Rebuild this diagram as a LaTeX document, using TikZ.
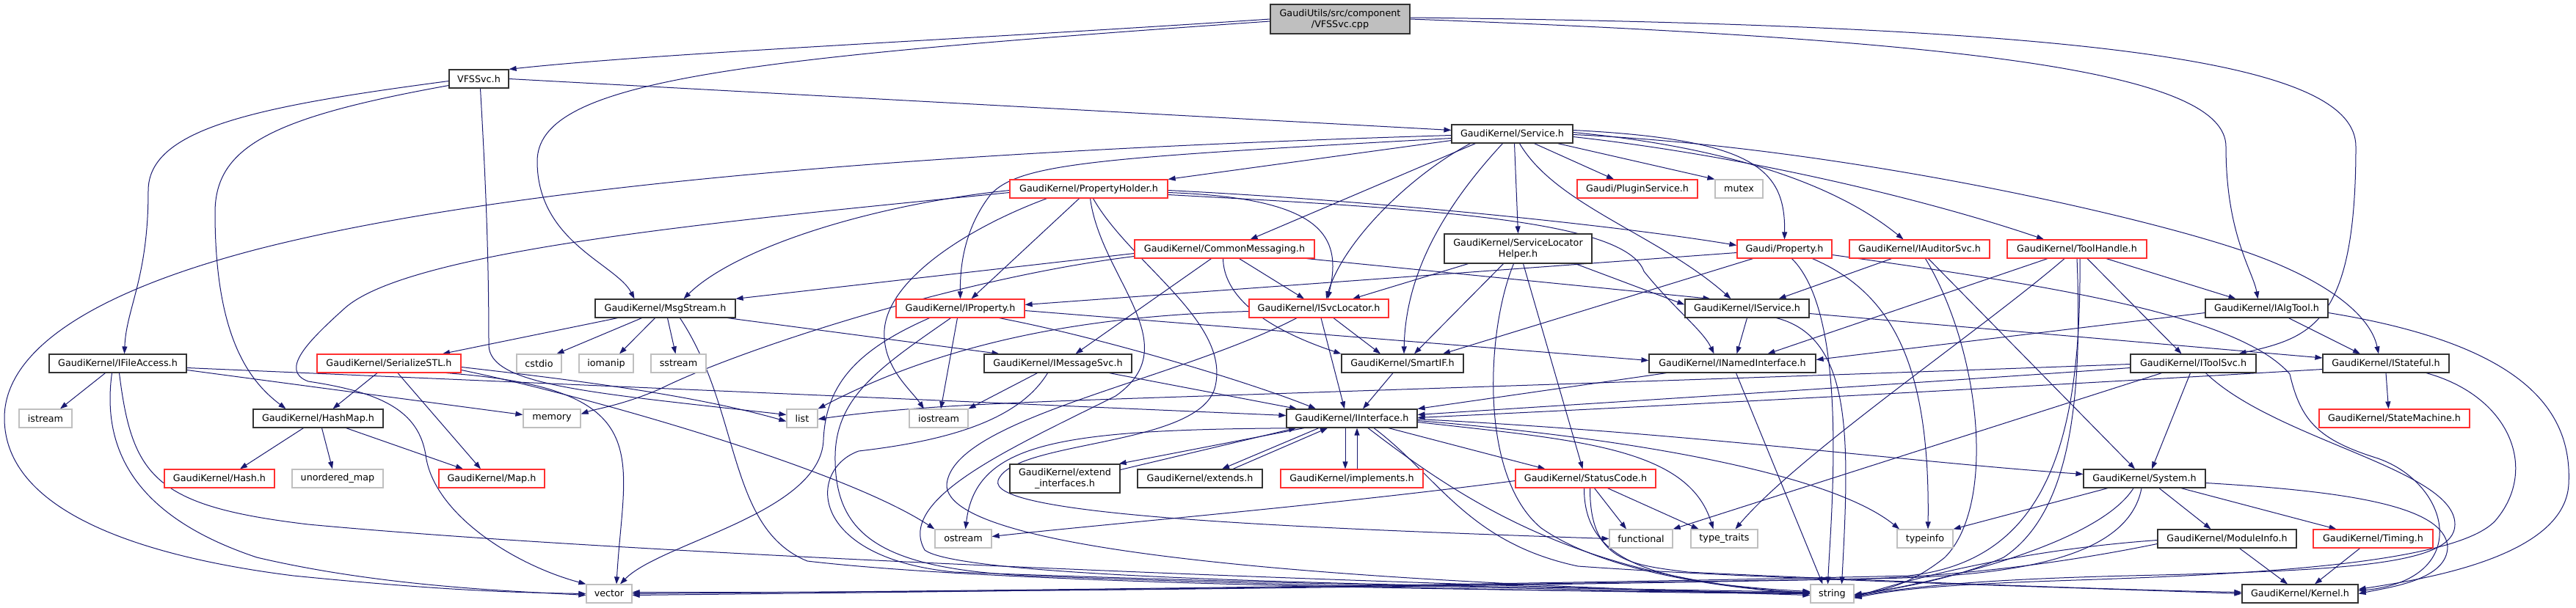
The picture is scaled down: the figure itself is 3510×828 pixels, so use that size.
\documentclass[tikz,border=0pt]{standalone}
\usepackage{fontspec}
\setmainfont{DejaVu Sans}
\usetikzlibrary{arrows.meta}
\definecolor{edgec}{HTML}{191970}
\definecolor{redc}{HTML}{FF3030}
\definecolor{grayc}{HTML}{BFBFBF}
\definecolor{blk}{HTML}{333333}
\pgfdeclarelayer{edges}
\pgfsetlayers{edges,main}
\begin{document}
\begin{tikzpicture}[x=1pt,y=-1pt,
  nb/.style={draw=blk, fill=white, line width=1.2pt, minimum height=25pt, inner sep=0pt, align=center, font=\fontsize{12.75}{15}\selectfont},
  nr/.style={nb, draw=redc},
  ng/.style={nb, draw=grayc},
  edg/.style={draw=edgec, line width=1pt, -{Triangle[length=10pt,width=7pt]}}]
\useasboundingbox (0,0) rectangle (3510,828);
% ---- nodes ----
\node[nb, fill=grayc, minimum width=190pt, minimum height=40pt] (root) at (1826,26) {GaudiUtils/src/component\\/VFSSvc.cpp};
\node[nb, minimum width=81pt] (vfssvch) at (652.5,107.5) {VFSSvc.h};
\node[nb, minimum width=165pt] (service) at (2060.5,182.5) {GaudiKernel/Service.h};
\node[nr, minimum width=215pt] (propholder) at (1483.5,257.5) {GaudiKernel/PropertyHolder.h};
\node[nr, minimum width=164pt] (plugin) at (2231,257.5) {Gaudi/PluginService.h};
\node[ng, minimum width=65pt] (mutex) at (2369.5,257.5) {mutex};
\node[nr, minimum width=245pt] (commsg) at (1668.5,339.5) {GaudiKernel/CommonMessaging.h};
\node[nb, minimum width=201pt, minimum height=40pt] (slhelper) at (2068.5,339) {GaudiKernel/ServiceLocator\\Helper.h};
\node[nr, minimum width=129pt] (property) at (2431.5,339.5) {Gaudi/Property.h};
\node[nr, minimum width=191pt] (iauditor) at (2615.5,339.5) {GaudiKernel/IAuditorSvc.h};
\node[nr, minimum width=190pt] (toolhandle) at (2830,339.5) {GaudiKernel/ToolHandle.h};
\node[nb, minimum width=191pt] (msgstream) at (906.5,420.5) {GaudiKernel/MsgStream.h};
\node[nr, minimum width=175pt] (iproperty) at (1308.5,420.5) {GaudiKernel/IProperty.h};
\node[nr, minimum width=190pt] (isvcloc) at (1797,420.5) {GaudiKernel/ISvcLocator.h};
\node[nb, minimum width=169pt] (iservice) at (2380.5,420.5) {GaudiKernel/IService.h};
\node[nb, minimum width=167pt] (ialgtool) at (3088.5,420.5) {GaudiKernel/IAlgTool.h};
\node[nb, minimum width=187pt] (ifileaccess) at (160.5,495.5) {GaudiKernel/IFileAccess.h};
\node[nr, minimum width=196pt] (serialize) at (530,495.5) {GaudiKernel/SerializeSTL.h};
\node[ng, minimum width=61pt] (cstdio) at (734.5,495.5) {cstdio};
\node[ng, minimum width=74pt] (iomanip) at (826,495.5) {iomanip};
\node[ng, minimum width=75pt] (sstream) at (924.5,495.5) {sstream};
\node[nb, minimum width=201pt] (imsgsvc) at (1441.5,495.5) {GaudiKernel/IMessageSvc.h};
\node[nb, minimum width=166pt] (smartif) at (1911,495.5) {GaudiKernel/SmartIF.h};
\node[nb, minimum width=227pt] (inamed) at (2360.5,495.5) {GaudiKernel/INamedInterface.h};
\node[nb, minimum width=171pt] (itoolsvc) at (2988.5,495.5) {GaudiKernel/IToolSvc.h};
\node[nb, minimum width=172pt] (istateful) at (3251,495.5) {GaudiKernel/IStateful.h};
\node[ng, minimum width=72pt] (istream) at (62,570.5) {istream};
\node[nb, minimum width=177pt] (hashmap) at (433.5,570.5) {GaudiKernel/HashMap.h};
\node[ng, minimum width=78pt] (memory) at (752,570.5) {memory};
\node[ng, minimum width=42pt] (list) at (1093,570.5) {list};
\node[ng, minimum width=80pt] (iostream) at (1279,570.5) {iostream};
\node[nb, minimum width=178pt] (iinterface) at (1842,570.5) {GaudiKernel/IInterface.h};
\node[nr, minimum width=205pt] (statemachine) at (3262.5,570.5) {GaudiKernel/StateMachine.h};
\node[nr, minimum width=150pt] (hash) at (299,652.5) {GaudiKernel/Hash.h};
\node[ng, minimum width=124pt] (unordered) at (460,652.5) {unordered\_map};
\node[nr, minimum width=144pt] (maph) at (670,652.5) {GaudiKernel/Map.h};
\node[nb, minimum width=150pt, minimum height=39pt] (extendif) at (1451,652.5) {GaudiKernel/extend\\\_interfaces.h};
\node[nb, minimum width=170pt] (extends) at (1635,652.5) {GaudiKernel/extends.h};
\node[nr, minimum width=194pt] (implements) at (1842,652.5) {GaudiKernel/implements.h};
\node[nr, minimum width=191pt] (statuscode) at (2160.5,652.5) {GaudiKernel/StatusCode.h};
\node[nb, minimum width=166pt] (system) at (2922,652.5) {GaudiKernel/System.h};
\node[ng, minimum width=77pt] (ostream) at (1312.5,734.5) {ostream};
\node[ng, minimum width=86pt] (functional) at (2236,734.5) {functional};
\node[ng, minimum width=91pt] (typetraits) at (2349.5,734.5) {type\_traits};
\node[ng, minimum width=76pt] (typeinfo) at (2623,734.5) {typeinfo};
\node[nb, minimum width=189pt] (moduleinfo) at (3034.5,734.5) {GaudiKernel/ModuleInfo.h};
\node[nr, minimum width=163pt] (timing) at (3233.5,734.5) {GaudiKernel/Timing.h};
\node[ng, minimum width=62pt] (vector) at (830,809.5) {vector};
\node[ng, minimum width=59pt] (string) at (2496.5,809.5) {string};
\node[nb, minimum width=158pt] (kernel) at (3134,809.5) {GaudiKernel/Kernel.h};
% ---- edges ----
\begin{pgfonlayer}{edges}
\fill[white] (0,0) rectangle (3510,828);
% root
\draw[edg] (root.west) .. controls (1300,55) and (900,72) .. (vfssvch.north east);
\draw[edg] ([yshift=-3pt]root.west) .. controls (1000,80) and (732,110) .. (732,220) .. controls (732,330) and (840,360) .. ([xshift=-42pt]msgstream.north);
\draw[edg] (root.east) .. controls (2700,55) and (3033,100) .. (3033,200) .. controls (3033,320) and (3070,370) .. ([xshift=-12pt]ialgtool.north);
\draw[edg] ([yshift=2pt]root.east) .. controls (2900,35) and (3210,90) .. (3210,200) .. controls (3210,440) and (3150,460) .. ([xshift=62pt]itoolsvc.north);
% VFSSvc.h
\draw[edg] (vfssvch.east) -- ([yshift=5pt]service.west);
\draw[edg] ([yshift=-3pt]vfssvch.west) .. controls (350,145) and (202,175) .. (202,260) .. controls (202,380) and (172,420) .. ([xshift=9pt]ifileaccess.north);
\draw[edg] ([yshift=-9pt]vfssvch.west) .. controls (370,160) and (293,200) .. (293,290) .. controls (293,460) and (340,520) .. ([xshift=-44pt]hashmap.north);
\draw[edg] ([xshift=2pt]vfssvch.south) .. controls (662,250) and (666,350) .. (666,470) .. controls (666,525) and (800,535) .. ([yshift=5pt]list.west);
% Service.h
\draw[edg] ([yshift=-2pt]service.west) .. controls (1300,205) and (700,250) .. (350,340) .. controls (120,400) and (6,480) .. (6,570) .. controls (6,700) and (200,760) .. (400,785) .. controls (600,805) and (700,808) .. (vector.west);
\draw[edg] ([yshift=-6pt]service.west) .. controls (1500,215) and (1390,222) .. (1350,265) .. controls (1315,310) and (1308,360) .. (iproperty.north);
\draw[edg] ([yshift=-9pt]service.west) -- (propholder.north east);
\draw[edg] ([xshift=-50pt]service.south) -- ([xshift=35pt]commsg.north);
\draw[edg] ([xshift=-57pt]service.south) .. controls (1920,240) and (1830,330) .. ([xshift=10pt]isvcloc.north);
\draw[edg] ([xshift=-13pt]service.south) .. controls (1960,290) and (1915,380) .. ([xshift=2pt]smartif.north);
\draw[edg] ([xshift=3pt]service.south) -- (slhelper.north);
\draw[edg] ([xshift=10pt]service.south) .. controls (2120,280) and (2260,320) .. ([xshift=-22pt]iservice.north);
\draw[edg] ([xshift=30pt]service.south) -- ([xshift=-32pt]plugin.north);
\draw[edg] ([xshift=62pt]service.south) -- (mutex.north west);
\draw[edg] ([yshift=5pt]service.east) .. controls (2390,190) and (2433,230) .. (property.north);
\draw[edg] ([yshift=2pt]service.east) .. controls (2350,200) and (2500,250) .. ([xshift=-22pt]iauditor.north);
\draw[edg] ([yshift=-4pt]service.east) .. controls (2400,215) and (2650,280) .. ([xshift=-45pt]toolhandle.north);
\draw[edg] ([yshift=-1pt]service.east) .. controls (2500,200) and (2900,290) .. (3050,340) .. controls (3170,380) and (3230,430) .. ([xshift=-10pt]istateful.north);
% PropertyHolder.h
\draw[edg] ([yshift=-5pt]propholder.west) .. controls (1000,300) and (560,340) .. (470,420) .. controls (420,465) and (380,505) .. (420,520) .. controls (520,535) and (570,560) .. (580,620) .. controls (590,700) and (700,770) .. (vector.north west);
\draw[edg] ([yshift=-2pt]propholder.west) .. controls (1180,280) and (1000,340) .. ([xshift=25pt]msgstream.north);
\draw[edg] ([xshift=-57pt]propholder.south) .. controls (1320,310) and (1210,380) .. (1205,450) .. controls (1202,500) and (1240,530) .. ([xshift=-20pt]iostream.north);
\draw[edg] ([xshift=-13pt]propholder.south) -- ([xshift=15pt]iproperty.north);
\draw[edg] ([xshift=2pt]propholder.south) .. controls (1500,380) and (1620,470) .. (1520,540) .. controls (1380,610) and (1220,680) .. (1260,750) .. controls (1320,795) and (2100,800) .. ([yshift=2pt]string.west);
\draw[edg] ([xshift=6pt]propholder.south) .. controls (1540,360) and (1680,440) .. (1655,530) .. controls (1630,610) and (1380,600) .. (1360,655) .. controls (1345,700) and (1700,718) .. (functional.west);
\draw[edg] ([yshift=-2pt]propholder.east) .. controls (1900,275) and (2220,310) .. ([yshift=5pt]property.west);
\draw[edg] ([yshift=-5pt]propholder.east) .. controls (1800,270) and (1830,320) .. ([xshift=12pt]isvcloc.north);
\draw[edg] ([yshift=-8pt]propholder.east) .. controls (1950,285) and (2215,300) .. (2240,370) .. controls (2280,420) and (2320,450) .. ([xshift=-25pt]inamed.north);
% CommonMessaging.h
\draw[edg] ([yshift=-6pt]commsg.west) -- (msgstream.north east);
\draw[edg] ([yshift=-10pt]commsg.west) .. controls (1300,380) and (1000,480) .. (900,530) .. controls (850,552) and (810,558) .. ([yshift=6pt]memory.east);
\draw[edg] ([xshift=-18pt]commsg.south) -- ([xshift=24pt]imsgsvc.north);
\draw[edg] ([xshift=-2pt]commsg.south) .. controls (1668,420) and (1760,460) .. (smartif.north west);
\draw[edg] ([xshift=20pt]commsg.south) -- ([xshift=-20pt]isvcloc.north);
\draw[edg] ([xshift=112pt]commsg.south) -- ([xshift=-50pt]iservice.north);
% ServiceLocatorHelper.h
\draw[edg] ([xshift=-68pt]slhelper.south) -- ([xshift=46pt]isvcloc.north);
\draw[edg] ([xshift=-20pt]slhelper.south) -- ([xshift=16pt]smartif.north);
\draw[edg] ([xshift=-6pt]slhelper.south) .. controls (2025,450) and (2015,650) .. (2100,720) .. controls (2200,790) and (2400,805) .. (string.west);
\draw[edg] ([xshift=7pt]slhelper.south) -- ([xshift=-4pt]statuscode.north);
\draw[edg] ([xshift=78pt]slhelper.south) -- ([yshift=5pt]iservice.west);
% Gaudi/Property.h
\draw[edg] ([yshift=-5pt]property.west) -- ([yshift=5pt]iproperty.east);
\draw[edg] ([xshift=-43pt]property.south) -- ([xshift=55pt]smartif.north);
\draw[edg] ([xshift=10pt]property.south) .. controls (2520,430) and (2495,700) .. ([xshift=-6pt]string.north);
\draw[edg] ([xshift=38pt]property.south) .. controls (2580,400) and (2630,500) .. ([xshift=4pt]typeinfo.north);
\draw[edg] ([yshift=-8pt]property.east) .. controls (2800,390) and (3050,430) .. (3120,510) .. controls (3135,575) and (3160,600) .. (3240,625) .. controls (3340,660) and (3370,790) .. ([yshift=4pt]kernel.east);
% IAuditorSvc.h
\draw[edg] ([xshift=-38pt]iauditor.south) -- ([xshift=43pt]iservice.north);
\draw[edg] ([xshift=8pt]iauditor.south) .. controls (2700,480) and (2720,690) .. (2650,760) .. controls (2600,800) and (2560,806) .. ([yshift=-1pt]string.east);
\draw[edg] ([xshift=12pt]iauditor.south) -- ([xshift=-13pt]system.north);
% ToolHandle.h
\draw[edg] ([xshift=-40pt]toolhandle.south) -- ([xshift=48pt]inamed.north);
\draw[edg] ([xshift=-17pt]toolhandle.south) .. controls (2700,450) and (2450,620) .. ([xshift=15pt]typetraits.north);
\draw[edg] (toolhandle.south) .. controls (2838,550) and (2820,700) .. (2730,760) .. controls (2650,795) and (2560,805) .. ([yshift=-3pt]string.east);
\draw[edg] ([xshift=4pt]toolhandle.south) .. controls (2836,600) and (2790,765) .. (2600,785) .. controls (2100,797) and (1300,806) .. (vector.east);
\draw[edg] ([xshift=14pt]toolhandle.south) -- ([xshift=-16pt]itoolsvc.north);
\draw[edg] ([xshift=40pt]toolhandle.south) -- ([xshift=-42pt]ialgtool.north);
% MsgStream.h
\draw[edg] ([xshift=-65pt]msgstream.south) -- ([xshift=73pt]serialize.north);
\draw[edg] ([xshift=-32pt]msgstream.south) -- ([xshift=24pt]cstdio.north);
\draw[edg] ([xshift=-14pt]msgstream.south) -- ([xshift=18pt]iomanip.north);
\draw[edg] ([xshift=3pt]msgstream.south) -- ([xshift=-4pt]sstream.north);
\draw[edg] ([xshift=20pt]msgstream.south) .. controls (1010,560) and (990,720) .. (1100,765) .. controls (1400,800) and (2150,806) .. ([yshift=1pt]string.west);
\draw[edg] ([xshift=85pt]msgstream.south) -- ([xshift=-80pt]imsgsvc.north);
% IProperty.h
\draw[edg] ([xshift=-42pt]iproperty.south) .. controls (1160,480) and (1125,530) .. (1122,600) .. controls (1118,700) and (900,740) .. ([xshift=15pt]vector.north);
\draw[edg] ([xshift=-13pt]iproperty.south) .. controls (1200,500) and (1140,540) .. (1138,620) .. controls (1136,730) and (1200,775) .. (1400,785) .. controls (1800,800) and (2200,808) .. (string.west);
\draw[edg] ([xshift=-4pt]iproperty.south) -- ([xshift=3pt]iostream.north);
\draw[edg] ([xshift=53pt]iproperty.south) .. controls (1500,460) and (1700,520) .. ([xshift=-49pt]iinterface.north);
\draw[edg] ([yshift=-3pt]iproperty.east) -- ([yshift=4pt]inamed.west);
% ISvcLocator.h
\draw[edg] ([yshift=-4pt]isvcloc.west) .. controls (1500,430) and (1300,460) .. (list.north east);
\draw[edg] ([xshift=-30pt]isvcloc.south) .. controls (1600,520) and (1300,570) .. (1290,660) .. controls (1285,760) and (1900,795) .. ([yshift=-2pt]string.west);
\draw[edg] ([xshift=3pt]isvcloc.south) -- ([xshift=-10pt]iinterface.north);
\draw[edg] ([xshift=20pt]isvcloc.south) -- ([xshift=-30pt]smartif.north);
% IService.h
\draw[edg] (iservice.south) -- ([xshift=6pt]inamed.north);
\draw[edg] ([xshift=40pt]iservice.south) .. controls (2525,460) and (2520,600) .. ([xshift=13pt]string.north);
\draw[edg] ([yshift=-7pt]iservice.east) -- ([yshift=7.5pt]istateful.west);
% IAlgTool.h
\draw[edg] ([yshift=-6pt]ialgtool.west) -- ([yshift=5pt]inamed.east);
\draw[edg] ([xshift=30pt]ialgtool.south) -- ([xshift=-35pt]istateful.north);
\draw[edg] ([yshift=-6pt]ialgtool.east) .. controls (3440,470) and (3505,560) .. (3500,660) .. controls (3495,760) and (3300,790) .. ([yshift=6pt]kernel.east);
% IToolSvc.h
\draw[edg] ([yshift=-1pt]itoolsvc.west) .. controls (2600,508) and (2000,528) .. (1700,538) .. controls (1400,548) and (1250,552) .. ([yshift=-1pt]list.east);
\draw[edg] ([yshift=-6pt]itoolsvc.west) .. controls (2650,520) and (2200,548) .. ([yshift=5pt]iinterface.east);
\draw[edg] ([xshift=-43pt]itoolsvc.south) -- (functional.north east);
\draw[edg] ([xshift=-4pt]itoolsvc.south) -- ([xshift=10pt]system.north);
\draw[edg] ([xshift=17pt]itoolsvc.south) .. controls (3100,600) and (3345,640) .. (3345,715) .. controls (3345,770) and (3200,778) .. (2900,785) .. controls (2700,790) and (2600,800) .. ([yshift=-4pt]string.east);
% IStateful.h
\draw[edg] ([yshift=-8pt]istateful.west) .. controls (2800,525) and (2300,552) .. ([yshift=1pt]iinterface.east);
\draw[edg] (istateful.south) -- ([xshift=-8pt]statemachine.north);
\draw[edg] ([xshift=55pt]istateful.south) .. controls (3420,540) and (3460,640) .. (3400,710) .. controls (3340,775) and (3000,785) .. (2800,792) .. controls (2650,797) and (2580,804) .. ([yshift=-6pt]string.east);
% System.h
\draw[edg] ([xshift=-50pt]system.south) -- (typeinfo.north east);
\draw[edg] ([xshift=-15pt]system.south) .. controls (2860,740) and (2650,792) .. ([yshift=-2pt]string.east);
\draw[edg] ([xshift=-4pt]system.south) .. controls (2900,760) and (2750,786) .. (2550,789) .. controls (2000,798) and (1200,808) .. ([yshift=-2pt]vector.east);
\draw[edg] ([xshift=20pt]system.south) -- ([xshift=-22pt]moduleinfo.north);
\draw[edg] ([xshift=50pt]system.south) -- ([xshift=-50pt]timing.north);
\draw[edg] ([yshift=-6pt]system.east) .. controls (3200,670) and (3330,690) .. (3335,745) .. controls (3335,790) and (3260,800) .. (kernel.east);
% ModuleInfo.h, Timing.h
\draw[edg] ([xshift=17pt]moduleinfo.south) -- ([xshift=-17pt]kernel.north);
\draw[edg] ([yshift=-2pt]moduleinfo.west) .. controls (2750,750) and (2600,790) .. ([yshift=-5pt]string.east);
\draw[edg] ([yshift=-7pt]moduleinfo.west) .. controls (2800,770) and (2650,788) .. (2500,790) .. controls (2000,800) and (1200,809) .. ([yshift=2pt]vector.east);
\draw[edg] ([xshift=-18pt]timing.south) -- ([xshift=20pt]kernel.north);
% StatusCode.h
\draw[edg] ([yshift=-3pt]statuscode.west) .. controls (1800,690) and (1500,715) .. ([yshift=3pt]ostream.east);
\draw[edg] ([xshift=12pt]statuscode.south) -- ([xshift=-20pt]functional.north);
\draw[edg] ([xshift=30pt]statuscode.south) -- ([xshift=-35pt]typetraits.north);
\draw[edg] ([xshift=-2pt]statuscode.south) .. controls (2158,765) and (2250,795) .. ([yshift=3pt]string.west);
\draw[edg] ([xshift=6pt]statuscode.south) .. controls (2166,765) and (2220,770) .. (2300,780) .. controls (2500,790) and (2900,805) .. ([yshift=2pt]kernel.west);
% IInterface.h
\draw[edg] ([xshift=50pt]iinterface.south) -- ([xshift=-55pt]statuscode.north);
\draw[edg] ([xshift=22pt]iinterface.south) .. controls (1990,680) and (2150,790) .. ([yshift=1pt]string.west);
\draw[edg] ([yshift=-5pt]iinterface.east) .. controls (2150,600) and (2300,610) .. ([xshift=-15pt]typetraits.north);
\draw[edg] ([yshift=-3pt]iinterface.east) .. controls (2250,600) and (2500,650) .. ([xshift=-35pt]typeinfo.north);
\draw[edg] ([yshift=-1pt]iinterface.east) .. controls (2300,590) and (2600,630) .. ([yshift=6pt]system.west);
\draw[edg] ([xshift=30pt]iinterface.south) .. controls (1960,650) and (2000,740) .. (2150,772) .. controls (2400,790) and (2800,800) .. (kernel.west);
\draw[edg] ([xshift=-55pt]iinterface.south) .. controls (1450,585) and (1330,600) .. ([xshift=3pt]ostream.north);
\draw[edg] ([xshift=-9pt]iinterface.south) -- ([xshift=-9pt]implements.north);
\draw[edg] ([xshift=7pt]implements.north) -- ([xshift=7pt]iinterface.south);
\draw[edg] ([xshift=-45pt]iinterface.south) -- ([xshift=30pt]extends.north);
\draw[edg] ([xshift=45pt]extends.north) -- ([xshift=-33pt]iinterface.south);
\draw[edg] ([xshift=-65pt]iinterface.south) -- ([xshift=-2pt]extendif.north east);
\draw[edg] ([yshift=12pt]extendif.east) -- ([xshift=-76pt]iinterface.south);
% IMessageSvc.h
\draw[edg] ([xshift=-28pt]imsgsvc.south) -- (iostream.north east);
\draw[edg] ([xshift=-14pt]imsgsvc.south) .. controls (1390,570) and (1300,600) .. (1170,615) .. controls (1100,640) and (1100,760) .. (1300,780) .. controls (1700,795) and (2200,806) .. ([yshift=1pt]string.west);
\draw[edg] ([xshift=70pt]imsgsvc.south) -- ([xshift=-75pt]iinterface.north);
% SmartIF.h, INamedInterface.h
\draw[edg] ([xshift=-13pt]smartif.south) -- ([xshift=15pt]iinterface.north);
\draw[edg] ([xshift=-90pt]inamed.south) -- (iinterface.north east);
\draw[edg] ([xshift=5pt]inamed.south) -- ([xshift=-13pt]string.north);
% IFileAccess.h
\draw[edg] ([xshift=-17pt]ifileaccess.south) -- ([xshift=20pt]istream.north);
\draw[edg] ([yshift=-9pt]ifileaccess.east) -- ([yshift=5pt]memory.west);
\draw[edg] ([yshift=-6pt]ifileaccess.east) -- ([yshift=4pt]iinterface.west);
\draw[edg] ([xshift=-8pt]ifileaccess.south) .. controls (140,600) and (170,700) .. (350,760) .. controls (520,800) and (700,806) .. ([yshift=-2pt]vector.west);
\draw[edg] ([xshift=2pt]ifileaccess.south) .. controls (180,650) and (210,690) .. (420,715) .. controls (900,760) and (2000,800) .. (string.west);
% SerializeSTL.h
\draw[edg] ([xshift=-16pt]serialize.south) -- ([xshift=20pt]hashmap.north);
\draw[edg] ([xshift=12pt]serialize.south) -- ([xshift=-15pt]maph.north);
\draw[edg] ([yshift=-5pt]serialize.east) .. controls (800,520) and (950,540) .. ([yshift=-4pt]list.west);
\draw[edg] ([yshift=-9pt]serialize.east) .. controls (800,540) and (1150,640) .. (ostream.north west);
\draw[edg] ([xshift=78pt]serialize.south) .. controls (900,530) and (850,620) .. ([xshift=10pt]vector.north);
% HashMap.h
\draw[edg] ([xshift=-20pt]hashmap.south) -- ([xshift=28pt]hash.north);
\draw[edg] ([xshift=5pt]hashmap.south) -- ([xshift=-7pt]unordered.north);
\draw[edg] ([xshift=38pt]hashmap.south) -- ([xshift=-39pt]maph.north);
\end{pgfonlayer}
\end{tikzpicture}
\end{document}
